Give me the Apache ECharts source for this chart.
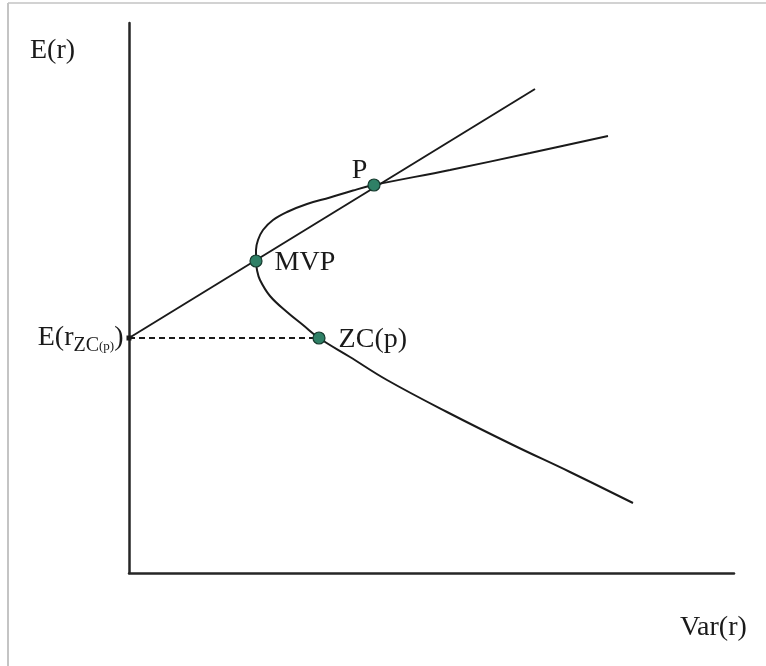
<!DOCTYPE html>
<html>
<head>
<meta charset="utf-8">
<script src="https://cdn.jsdelivr.net/npm/echarts@6/dist/echarts.min.js"></script>
<style>
  html, body { margin: 0; padding: 0; background: #fff; }
  #chart { width: 766px; height: 666px; }
</style>
</head>
<body>
<div id="chart"></div>
<script>
// Mean-variance frontier in (Var, E) space, traced from the upper end down to the lower end
const frontierVar = [95.8, 80.2, 64.2, 49.0, 44.8, 40.2, 35.6, 31.6, 28.8, 26.8, 25.8, 25.4, 25.4,
                     25.6, 26.2, 28.2, 31.6, 34.8, 38.0, 44.2, 51.6, 63.6, 76.8, 88.2, 100.8];
const frontierE   = [87.4, 84.0, 80.6, 77.6, 76.5, 75.1, 73.8, 72.2, 70.6, 68.6, 66.6, 64.6, 62.4,
                     60.6, 58.6, 55.4, 52.2, 49.6, 47.0, 43.2, 38.6, 32.2, 25.6, 20.2, 14.0];

// Line from E(r_zc(p)) through MVP and p
const lineVar = [0, 81.2];
const lineE   = [47.0, 96.8];

// Labelled portfolios
const pointNames = ['P', 'MVP', 'ZC(p)'];
const pointVar   = [49.0, 25.4, 38.0];
const pointE     = [77.6, 62.4, 47.0];

// Axis extents
const varMax = 121;
const eMax = 110;

const zip = (xs, ys) => xs.map((x, i) => [x, ys[i]]);

const serif = '"Liberation Serif", "DejaVu Serif", serif';
const ink = '#1a1a1a';
const fontSize = 28;

const chart = echarts.init(document.getElementById('chart'));

const labelPos = {
  'P':     { position: 'left',  offset: [5, -14] },
  'MVP':   { position: 'right', offset: [7, 2] },
  'ZC(p)': { position: 'right', offset: [8, 2] }
};

chart.setOption({
  animation: false,
  backgroundColor: '#ffffff',
  grid: { left: 129, top: 23, width: 605, height: 550 },
  xAxis: {
    type: 'value', min: 0, max: varMax,
    axisLine: { show: true, lineStyle: { color: '#262626', width: 2.5 } },
    axisTick: { show: false }, axisLabel: { show: false }, splitLine: { show: false }
  },
  yAxis: {
    type: 'value', min: 0, max: eMax,
    axisLine: { show: true, lineStyle: { color: '#262626', width: 2.5 } },
    axisTick: { show: false }, axisLabel: { show: false }, splitLine: { show: false }
  },
  graphic: [
    // thin frame on the top and left edges
    { type: 'line', shape: { x1: 8, y1: 3, x2: 766, y2: 3 }, style: { stroke: '#d2d2d2', lineWidth: 2 }, silent: true },
    { type: 'line', shape: { x1: 8, y1: 3, x2: 8, y2: 666 }, style: { stroke: '#c4c4c4', lineWidth: 2 }, silent: true },
    { type: 'text', x: 30, y: 51, style: { text: 'E(r)', font: fontSize + 'px ' + serif, fill: ink, verticalAlign: 'middle' } },
    { type: 'text', x: 680, y: 628, style: { text: 'Var(r)', font: fontSize + 'px ' + serif, fill: ink, verticalAlign: 'middle' } }
  ],
  series: [
    {
      type: 'line', name: 'frontier', data: zip(frontierVar, frontierE),
      smooth: 0.4, showSymbol: false, z: 2,
      lineStyle: { color: ink, width: 2 }
    },
    {
      type: 'line', name: 'tangent', data: zip(lineVar, lineE),
      showSymbol: false, z: 2,
      lineStyle: { color: ink, width: 2 }
    },
    {
      type: 'line', name: 'zc level', z: 2,
      data: [
        {
          value: [0, pointE[2]], symbol: 'rect', symbolSize: 5,
          itemStyle: { color: ink },
          label: {
            show: true, position: 'left', distance: 3,
            formatter: '{a|E(r}{b|ZC}{c|(p)}{a|)}',
            rich: {
              a: { fontFamily: serif, fontSize: fontSize, color: ink },
              b: { fontFamily: serif, fontSize: 20, color: ink, padding: [16, 0, 0, 0] },
              c: { fontFamily: serif, fontSize: 13, color: ink, padding: [18, 0, 0, 0] }
            }
          }
        },
        { value: [pointVar[2], pointE[2]], symbol: 'none' }
      ],
      lineStyle: { color: ink, width: 2, type: [6, 4] }
    },
    {
      type: 'scatter', name: 'portfolios', z: 5,
      data: pointNames.map((n, i) => ({
        name: n, value: [pointVar[i], pointE[i]],
        label: Object.assign({
          show: true, formatter: n, fontFamily: serif, fontSize: fontSize,
          color: ink, textBorderWidth: 0, opacity: 1
        }, labelPos[n])
      })),
      symbol: 'circle', symbolSize: 12,
      itemStyle: { color: '#2f8066', borderColor: '#163a2e', borderWidth: 1.2, opacity: 1 }
    }
  ]
});
</script>
</body>
</html>
